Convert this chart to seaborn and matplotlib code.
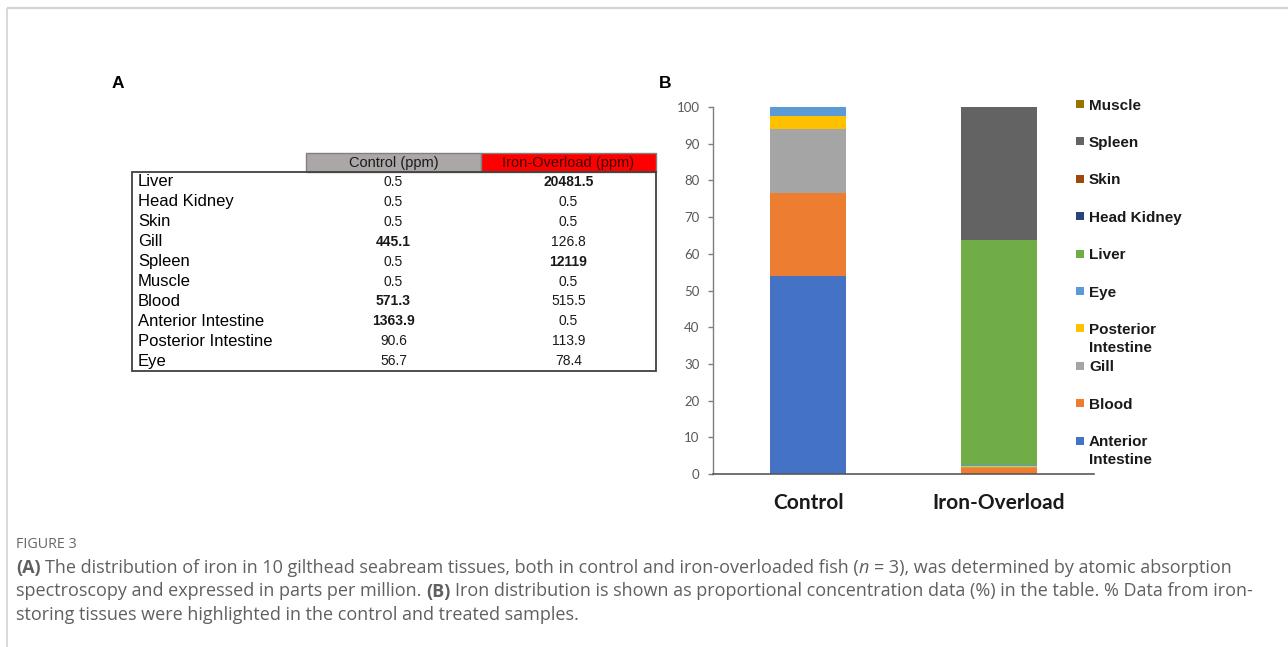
import numpy as np
import pandas as pd
import matplotlib
matplotlib.use("Agg")
import matplotlib.pyplot as plt
import seaborn as sns
from matplotlib.patches import Rectangle
from matplotlib.ticker import FixedLocator

# ---------------- data ----------------
tissues = ["Liver", "Head Kidney", "Skin", "Gill", "Spleen", "Muscle", "Blood",
           "Anterior Intestine", "Posterior Intestine", "Eye"]
control_ppm = [0.5, 0.5, 0.5, 445.1, 0.5, 0.5, 571.3, 1363.9, 90.6, 56.7]
iron_ppm = [20481.5, 0.5, 0.5, 126.8, 12119, 0.5, 515.5, 0.5, 113.9, 78.4]
control_highlight = ["Gill", "Blood", "Anterior Intestine"]
iron_highlight = ["Liver", "Spleen"]
table_header = ["Control (ppm)", "Iron-Overload (ppm)"]

groups = ["Control", "Iron-Overload"]
stack_order = ["Anterior Intestine", "Blood", "Gill", "Posterior Intestine", "Eye",
               "Liver", "Head Kidney", "Skin", "Spleen", "Muscle"]
stack_colors = ["#4472C4", "#ED7D31", "#A5A5A5", "#FFC000", "#5B9BD5",
                "#70AD47", "#264478", "#9E480E", "#636363", "#997300"]
legend_order = ["Muscle", "Spleen", "Skin", "Head Kidney", "Liver", "Eye",
                "Posterior Intestine", "Gill", "Blood", "Anterior Intestine"]
legend_labels = ["Muscle", "Spleen", "Skin", "Head Kidney", "Liver", "Eye",
                 "Posterior\nIntestine", "Gill", "Blood", "Anterior\nIntestine"]
y_ticks = list(range(0, 101, 10))

caption_title = "FIGURE 3"
caption_lines = [
    [("(A)", "bold", "normal"),
     (" The distribution of iron in 10 gilthead seabream tissues, both in control and iron-overloaded fish (", "normal", "normal"),
     ("n", "normal", "italic"),
     (" = 3), was determined by atomic absorption", "normal", "normal")],
    [("spectroscopy and expressed in parts per million. ", "normal", "normal"),
     ("(B)", "bold", "normal"),
     (" Iron distribution is shown as proportional concentration data (%) in the table. % Data from iron-", "normal", "normal")],
    [("storing tissues were highlighted in the control and treated samples.", "normal", "normal")],
]

# ---------------- derived ----------------
df = pd.DataFrame({"Control": control_ppm, "Iron-Overload": iron_ppm}, index=tissues)
pct = df / df.sum() * 100
cum = pct.loc[stack_order].cumsum()

# ---------------- figure ----------------
sns.set_theme(style="white")
W, H = 1288, 647
fig = plt.figure(figsize=(W / 100, H / 100), dpi=100)
fig.patch.set_facecolor("white")

bg = fig.add_axes([0, 0, 1, 1], zorder=-1)
bg.set_xlim(0, W)
bg.set_ylim(H, 0)
bg.axis("off")

# frame lines
bg.plot([7, W], [8, 8], color="#d2d2d2", lw=1.6, solid_capstyle="butt")
bg.plot([7, 7], [8, H], color="#d2d2d2", lw=1.2, solid_capstyle="butt")

# panel letters
bg.text(118, 83, "A", fontsize=12.5, fontweight="bold", family="Liberation Sans",
        ha="center", va="center", color="black")
bg.text(665, 83, "B", fontsize=12.5, fontweight="bold", family="Liberation Sans",
        ha="center", va="center", color="black")

# ---------------- table (panel A) ----------------
tx0, tx1, ty0, ty1 = 132, 656, 172, 371
c1x0, c1x1, c2x1 = 306, 481, 656
hy0 = 153
bg.add_patch(Rectangle((c1x0, hy0), c1x1 - c1x0, ty0 - hy0, facecolor="#ABA7A7",
                       edgecolor="#808080", lw=1.0))
bg.add_patch(Rectangle((c1x1, hy0), c2x1 - c1x1, ty0 - hy0, facecolor="#FF0000",
                       edgecolor="#808080", lw=1.0))
bg.text((c1x0 + c1x1) / 2, (hy0 + ty0) / 2 + 0.5, table_header[0], fontsize=10.5,
        family="Liberation Sans", ha="center", va="center", color="#1a1a1a")
bg.text((c1x1 + c2x1) / 2, (hy0 + ty0) / 2 + 0.5, table_header[1], fontsize=10.5,
        family="Liberation Sans", ha="center", va="center", color="#3a0000")
bg.add_patch(Rectangle((tx0, ty0), tx1 - tx0, ty1 - ty0, facecolor="none",
                       edgecolor="#404040", lw=1.3))
row_y0, row_dy = 182, 19.9
for i, t in enumerate(tissues):
    y = row_y0 + i * row_dy
    bg.text(138, y, t, fontsize=12, family="Liberation Sans", ha="left",
            va="center", color="black")
    bg.text((c1x0 + c1x1) / 2, y, f"{control_ppm[i]:g}", fontsize=10,
            family="Liberation Sans", ha="center", va="center", color="#1a1a1a",
            fontweight="bold" if t in control_highlight else "normal")
    bg.text((c1x1 + c2x1) / 2, y, f"{iron_ppm[i]:g}", fontsize=10,
            family="Liberation Sans", ha="center", va="center", color="#1a1a1a",
            fontweight="bold" if t in iron_highlight else "normal")

# ---------------- stacked bars (panel B) ----------------
ax = fig.add_axes([713 / W, 1 - 474 / H, (1094 - 713) / W, (474 - 107) / H])
for i in reversed(range(len(stack_order))):
    sns.barplot(x=groups, y=cum.iloc[i].values,
                order=groups, color=stack_colors[i], saturation=1, width=0.4,
                errorbar=None, linewidth=0, ax=ax)
ax.set_xlim(-0.5, 1.5)
ax.set_ylim(0, 100)
ax.set_yticks(y_ticks)
ax.set_yticklabels([str(v) for v in y_ticks], family="Lato", fontsize=9.5, color="#595959")
ax.set_xticks([0, 1])
ax.set_xticklabels(groups, family="Lato", fontsize=15, fontweight="bold", color="#1a1a1a")
ax.xaxis.set_minor_locator(FixedLocator([-0.5, 0.5, 1.5]))
ax.tick_params(axis="x", which="major", length=0, pad=14)
ax.tick_params(axis="x", which="minor", length=4.5, width=1.0, color="#595959", direction="out")
ax.tick_params(axis="y", which="major", length=3.6, width=1.0, color="#7f7f7f",
               direction="out", pad=6, left=True)
ax.set_xlabel("")
ax.set_ylabel("")
for s in ["top", "right"]:
    ax.spines[s].set_visible(False)
ax.spines["left"].set_color("#7f7f7f")
ax.spines["left"].set_linewidth(1.0)
ax.spines["bottom"].set_color("#595959")
ax.spines["bottom"].set_linewidth(1.2)
ax.set_facecolor("none")
ax.grid(False)

# legend (manual, Excel-like fixed spacing)
leg_y0, leg_dy = 104, 37.4
for k, (name, lab) in enumerate(zip(legend_order, legend_labels)):
    y = leg_y0 + k * leg_dy
    col = stack_colors[stack_order.index(name)]
    bg.add_patch(Rectangle((1076.5, y - 4), 8, 8, facecolor=col, edgecolor="none"))
    for j, line in enumerate(lab.split("\n")):
        bg.text(1089, y + 18.3 * j, line, fontsize=11, fontweight="bold",
                family="Liberation Sans", ha="left", va="center_baseline", color="#1a1a1a")

# ---------------- caption ----------------
renderer = fig.canvas.get_renderer()
cap_font = "Open Sans"
cap_color = "#606060"


def text_w(s, size, weight="normal", style="normal"):
    t = bg.text(0, 0, s, fontsize=size, family=cap_font, fontweight=weight, fontstyle=style)
    w = t.get_window_extent(renderer).width
    t.remove()
    return w


def line_width(runs, size):
    sp = text_w("a a", size) - text_w("aa", size)
    total = 0
    for s, wt, st in runs:
        lead = len(s) - len(s.lstrip(" "))
        trail = len(s) - len(s.rstrip(" "))
        core = s.strip(" ")
        total += (lead + trail) * sp + (text_w(core, size, wt, st) if core else 0)
    return total, sp


base = 11
w1, _ = line_width(caption_lines[0], base)
cap_size = base * (1240 - 16) / w1


def draw_runs(x, y, runs, size):
    _, sp = line_width(runs, size)
    for s, wt, st in runs:
        lead = len(s) - len(s.lstrip(" "))
        trail = len(s) - len(s.rstrip(" "))
        core = s.strip(" ")
        x += lead * sp
        if core:
            t = bg.text(x, y, core, fontsize=size, family=cap_font, fontweight=wt,
                        fontstyle=st, color=cap_color, ha="left", va="center_baseline")
            x += t.get_window_extent(renderer).width
        x += trail * sp


bg.text(16, 542, caption_title, fontsize=10.3, family=cap_font, color="#666666",
        ha="left", va="center_baseline")
for i, runs in enumerate(caption_lines):
    draw_runs(16, 566 + i * 23.5, runs, cap_size)

fig.savefig("out.png", dpi=100, facecolor="white")
